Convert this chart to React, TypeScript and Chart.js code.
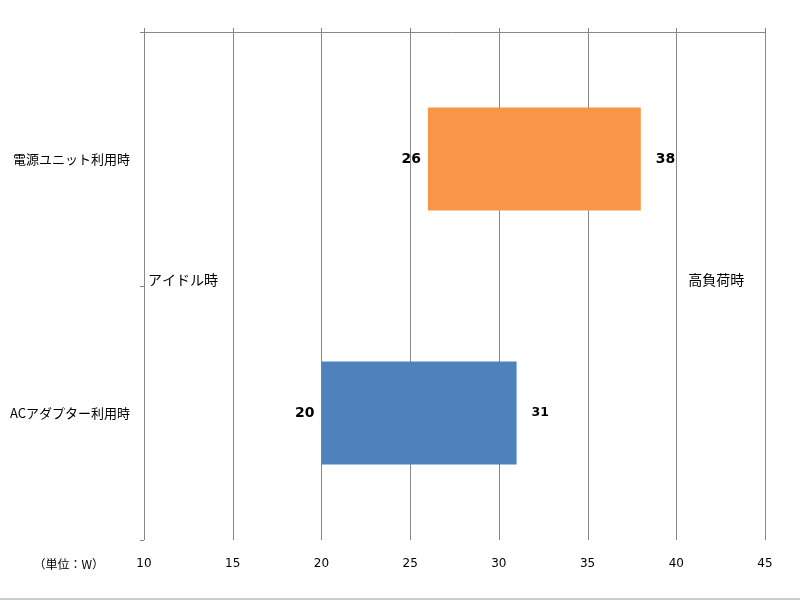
import React, { useEffect, useRef } from "react";
import { Chart, registerables } from "chart.js";

Chart.register(...registerables);

const categories = ["電源ユニット利用時", "ACアダプター利用時"];
const idleValues = [26, 20];
const loadValues = [38, 31];
const barColors = ["#F79646", "#4F81BD"];
const tickValues = [10, 15, 20, 25, 30, 35, 40, 45];
const unitLabel = "（単位：W）";
const idleLabel = "アイドル時";
const loadLabel = "高負荷時";

const CJK = '"Noto Sans CJK JP", sans-serif';
const NUM = '"DejaVu Sans", sans-serif';

const decorPlugin = {
  id: "decor",
  beforeDraw(chart: any) {
    const { ctx, width, height } = chart;
    ctx.save();
    ctx.fillStyle = "#ffffff";
    ctx.fillRect(0, 0, width, height);
    ctx.fillStyle = "#c9cdc9";
    ctx.fillRect(0, height - 2, width, 2);
    ctx.restore();
  },
  beforeDatasetsDraw(chart: any) {
    const { ctx, chartArea } = chart;
    const xs = chart.scales.x;
    ctx.save();
    ctx.strokeStyle = "#878787";
    ctx.lineWidth = 1;
    tickValues.forEach((v) => {
      const px = Math.round(xs.getPixelForValue(v)) + 0.5;
      ctx.beginPath();
      ctx.moveTo(px, chartArea.top - 4);
      ctx.lineTo(px, chartArea.bottom);
      ctx.stroke();
    });
    const top = Math.round(chartArea.top) + 0.5;
    ctx.beginPath();
    ctx.moveTo(chartArea.left - 4, top);
    ctx.lineTo(chartArea.right, top);
    ctx.stroke();
    const n = categories.length;
    for (let i = 1; i <= n; i++) {
      const y = Math.round(chartArea.top + ((chartArea.bottom - chartArea.top) * i) / n) + 0.5;
      ctx.beginPath();
      ctx.moveTo(chartArea.left - 4, y);
      ctx.lineTo(chartArea.left, y);
      ctx.stroke();
    }
    ctx.restore();
  },
  afterDatasetsDraw(chart: any) {
    const { ctx, chartArea } = chart;
    const xs = chart.scales.x;
    const ys = chart.scales.y;
    ctx.save();
    ctx.fillStyle = "#000000";
    ctx.textBaseline = "middle";
    categories.forEach((_, i) => {
      const cy = ys.getPixelForValue(i);
      ctx.font = "bold 14px " + NUM;
      ctx.textAlign = "right";
      ctx.fillText(String(idleValues[i]), xs.getPixelForValue(idleValues[i]) - 7, cy);
      ctx.font = (i === 1 ? "bold 12.5px " : "bold 14px ") + NUM;
      ctx.textAlign = "left";
      ctx.fillText(String(loadValues[i]), xs.getPixelForValue(loadValues[i]) + 15, cy);
    });
    const mid = (chartArea.top + chartArea.bottom) / 2 - 6;
    ctx.font = "14px " + CJK;
    ctx.textAlign = "left";
    ctx.fillText(idleLabel, xs.getPixelForValue(tickValues[0]) + 4, mid);
    ctx.fillText(loadLabel, xs.getPixelForValue(40) + 12, mid);
    ctx.font = "12px " + CJK;
    ctx.textAlign = "right";
    ctx.fillText(unitLabel, chartArea.left - 40, chartArea.bottom + 24);
    ctx.restore();
  },
};

export default function App() {
  const ref = useRef<HTMLCanvasElement | null>(null);
  useEffect(() => {
    if (!ref.current) return;
    const chart = new Chart(ref.current, {
      type: "bar",
      data: {
        labels: categories,
        datasets: [
          {
            data: categories.map((_, i) => [idleValues[i], loadValues[i]]) as any,
            backgroundColor: barColors,
            borderWidth: 0,
            borderSkipped: false,
            barPercentage: 0.405,
            categoryPercentage: 1,
          },
        ],
      },
      options: {
        indexAxis: "y",
        animation: false,
        responsive: false,
        maintainAspectRatio: false,
        layout: { padding: { top: 32, right: 35, left: 0, bottom: 0 } },
        plugins: { legend: { display: false }, tooltip: { enabled: false } },
        scales: {
          x: {
            type: "linear",
            position: "bottom",
            min: 10,
            max: 45,
            afterBuildTicks: (scale: any) => {
              scale.ticks = tickValues.map((v) => ({ value: v }));
            },
            afterFit: (scale: any) => {
              scale.height = 60;
            },
            grid: { display: false, drawTicks: false },
            border: { display: false },
            ticks: {
              padding: 17,
              color: "#000000",
              font: { family: NUM, size: 12 },
            },
          },
          y: {
            type: "category",
            afterFit: (scale: any) => {
              scale.width = 144;
            },
            grid: { display: false, drawTicks: false },
            border: { display: false },
            ticks: {
              padding: 14,
              color: "#000000",
              font: { family: CJK, size: 13 },
            },
          },
        },
      },
      plugins: [decorPlugin],
    } as any);
    return () => chart.destroy();
  }, []);
  return (
    <div style={{ position: "absolute", left: 0, top: 0, width: 800, height: 600 }}>
      <canvas ref={ref} width={800} height={600} style={{ width: 800, height: 600, display: "block" }} />
    </div>
  );
}
